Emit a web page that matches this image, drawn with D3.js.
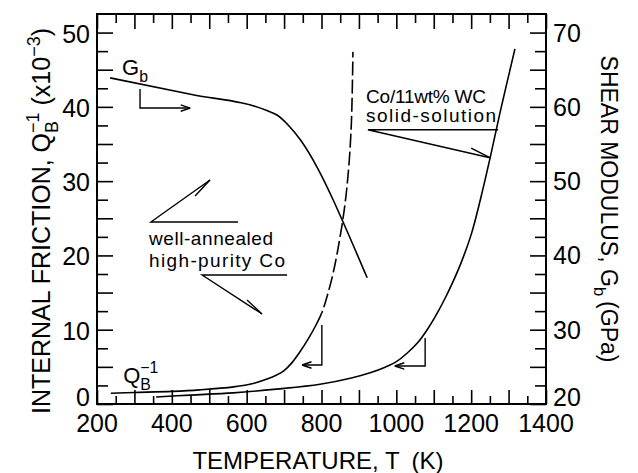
<!DOCTYPE html>
<html><head><meta charset="utf-8">
<script src="https://cdn.jsdelivr.net/npm/d3@7"></script>
<style>
body{margin:0;background:#fff}
svg{display:block}
text{font-family:"Liberation Sans",Arial,Helvetica,sans-serif;fill:#000}
</style>
</head><body>
<svg id="chart" width="638" height="473"></svg>
<script>
// ---------------- data ----------------
const xTickLabels = [200, 400, 600, 800, 1000, 1200, 1400];
const yLeftTickLabels = [0, 10, 20, 30, 40, 50];
const yRightTickLabels = [20, 30, 40, 50, 60, 70];

// Internal friction, well-annealed high-purity Co (solid up to pureDashFrom, dashed above)
const pureT = [237, 300, 400, 475, 565, 620, 660, 680, 700, 720, 742, 765, 785, 801, 815, 831, 849, 863, 873, 880, 884];
const pureQ = [1.45, 1.55, 1.7, 1.9, 2.3, 2.8, 3.45, 3.9, 4.5, 5.5, 7.0, 8.8, 10.6, 12.3, 14.5, 17.6, 22.3, 27.0, 32.0, 38.0, 47.4];
const pureDashFrom = 801;

// Internal friction, Co/11wt% WC solid solution
const wcT = [358, 450, 564, 680, 796, 880, 930, 970, 1000, 1030, 1058, 1085, 1110, 1130, 1150, 1173, 1200, 1225, 1250, 1277, 1317];
const wcQ = [0.95, 1.2, 1.5, 2.0, 2.65, 3.5, 4.2, 4.95, 5.7, 6.9, 8.3, 10.2, 12.3, 14.2, 16.3, 19.0, 22.8, 27.6, 33.0, 39.2, 47.8];

// Shear modulus G_b (GPa), right axis
const gbT = [235, 450, 654, 681, 712, 743, 788, 831, 855, 922];
const gbG = [63.9, 61.7, 59.5, 58.9, 57.5, 55.6, 51.9, 47.5, 44.8, 37.0];

// annotation arrows (T, Q on left axis)
const gbArrow = [[315, 42.4], [315, 39.84], [449, 39.84]];
const pureArrow = [[801, 10.63], [801, 5.25], [748, 5.25]];
const wcArrow = [[1077, 8.88], [1077, 5.12], [996, 5.12]];
// leader lines for text labels (horizontal, then diagonal to tip), barb at tip
const pureLeaderUp = [[577, 24.5], [344, 24.5], [502, 30.15]];
const pureBarbUp = [[502, 30.15], [462, 28.0]];
const pureLeaderDown = [[708, 17.37], [481, 17.37], [641, 12.12]];
const pureBarbDown = [[641, 12.12], [601, 14.0]];
const wcLeader = [[1272, 36.92], [924, 36.92], [1250, 33.15]];
const wcBarb = [[1250, 33.15], [1200, 34.46]];

// ---------------- layout ----------------
const svg = d3.select("#chart");
const L = 97, R = 546, T = 14, B = 404;
const x = d3.scaleLinear().domain([200, 1400]).range([L, R]);
const yL = d3.scaleLinear().domain([0, 52.5]).range([B, T]);
const yR = d3.scaleLinear().domain([20, 72.5]).range([B, T]);

const tickStroke = g => g.selectAll("line").attr("stroke", "#000").attr("stroke-width", 1.6);
function axisG(axis, tx, ty) {
  const g = svg.append("g").attr("transform", `translate(${tx},${ty})`).call(axis);
  g.select(".domain").remove();
  g.selectAll("text").remove();
  tickStroke(g);
  return g;
}
const xMajor = d3.range(200, 1401, 100), xMinor = d3.range(250, 1400, 100);
axisG(d3.axisBottom(x).tickValues(xMajor).tickSize(-14).tickFormat(""), 0, B);
axisG(d3.axisBottom(x).tickValues(xMinor).tickSize(-8).tickFormat(""), 0, B);
axisG(d3.axisTop(x).tickValues(xMajor).tickSize(-15).tickFormat(""), 0, T);
axisG(d3.axisTop(x).tickValues(xMinor).tickSize(-9).tickFormat(""), 0, T);
axisG(d3.axisLeft(yL).tickValues(d3.range(0, 51, 5)).tickSize(-16).tickFormat(""), L, 0);
axisG(d3.axisLeft(yL).tickValues(d3.range(2.5, 52, 5)).tickSize(-11).tickFormat(""), L, 0);
axisG(d3.axisRight(yR).tickValues(d3.range(20, 71, 5)).tickSize(-16).tickFormat(""), R, 0);
axisG(d3.axisRight(yR).tickValues(d3.range(22.5, 72, 5)).tickSize(-11).tickFormat(""), R, 0);

svg.append("rect").attr("x", L).attr("y", T).attr("width", R - L).attr("height", B - T)
  .attr("fill", "none").attr("stroke", "#000").attr("stroke-width", 2);

// tick labels
svg.append("g").selectAll("text").data(xTickLabels).join("text")
  .attr("x", d => x(d)).attr("y", 432).attr("text-anchor", "middle")
  .attr("font-size", 25).text(d => d);
svg.append("g").selectAll("text").data(yLeftTickLabels).join("text")
  .attr("x", 90).attr("y", d => yL(d) + (d === 0 ? 2 : 10)).attr("text-anchor", "end")
  .attr("font-size", 25).text(d => d);
svg.append("g").selectAll("text").data(yRightTickLabels).join("text")
  .attr("x", 553).attr("y", d => yR(d) + (d === 20 ? 2 : 9)).attr("text-anchor", "start")
  .attr("font-size", 25).text(d => d);

// rich text helper (sub / sup / stacked sup)
function rich(g, parts, size) {
  const t = g.append("text").attr("font-size", size);
  let cur = 0, lastW = 0;
  parts.forEach(p => {
    let target = 0, fs = size, dx = 0;
    if (p.k === "sub") { target = 0.3 * size; fs = 0.72 * size; }
    else if (p.k === "sup") { target = -0.42 * size; fs = 0.72 * size; }
    else if (p.k === "stack") { target = -0.45 * size; fs = 0.72 * size; dx = -lastW; }
    const ts = t.append("tspan").attr("font-size", fs).attr("dy", target - cur).text(p.s);
    if (p.dx) dx += p.dx;
    if (dx) ts.attr("dx", dx);
    cur = target;
    lastW = ts.node().getComputedTextLength();
  });
  return t;
}

// axis titles
rich(svg.append("g").attr("transform", "translate(318,469)"),
  [{s: "TEMPERATURE, T"}, {s: "(K)", dx: 12}], 24).attr("text-anchor", "middle");
rich(svg.append("g").attr("transform", "translate(50,221) rotate(-90)"),
  [{s: "INTERNAL FRICTION, Q"}, {s: "B", k: "sub"}, {s: "−1", k: "stack"}, {s: " (x10"}, {s: "−3", k: "sup"}, {s: ")"}], 25)
  .attr("text-anchor", "middle");
rich(svg.append("g").attr("transform", "translate(601,209) rotate(90)"),
  [{s: "SHEAR MODULUS, G"}, {s: "b", k: "sub"}, {s: "(GPa)", dx: 5}], 23)
  .attr("text-anchor", "middle");

// clip regions for solid / dashed parts of the pure-Co curve
const defs = svg.append("defs");
defs.append("clipPath").attr("id", "clipSolid").append("rect")
  .attr("x", 0).attr("y", 0).attr("width", x(pureDashFrom)).attr("height", 473);
defs.append("clipPath").attr("id", "clipDash").append("rect")
  .attr("x", x(pureDashFrom)).attr("y", 0).attr("width", 638).attr("height", 473);

// curves
const zip = (a, b) => a.map((v, i) => [v, b[i]]);
const lineQ = d3.line().x(d => x(d[0])).y(d => yL(d[1])).curve(d3.curveCatmullRom.alpha(0.5));
const lineG = d3.line().x(d => x(d[0])).y(d => yR(d[1])).curve(d3.curveMonotoneX);
const curves = svg.append("g").attr("fill", "none").attr("stroke", "#000").attr("stroke-width", 1.6);
const pureD = lineQ(zip(pureT, pureQ));
curves.append("path").attr("d", pureD).attr("clip-path", "url(#clipSolid)");
curves.append("path").attr("d", pureD).attr("clip-path", "url(#clipDash)").attr("stroke-dasharray", "14,4");
curves.append("path").attr("d", lineQ(zip(wcT, wcQ)));
curves.append("path").attr("d", lineG(zip(gbT, gbG)));

// annotations
const ann = svg.append("g").attr("fill", "none").attr("stroke", "#000").attr("stroke-width", 1.4);
const px = p => [x(p[0]), yL(p[1])];
const straight = d3.line();
function arrow(pts) {
  const P = pts.map(px);
  ann.append("path").attr("d", straight(P));
  const [a, b] = [P[P.length - 2], P[P.length - 1]];
  const ang = Math.atan2(b[1] - a[1], b[0] - a[0]);
  [0.33, -0.33].forEach(s => {
    ann.append("path").attr("d", straight([b, [b[0] - 10 * Math.cos(ang + s), b[1] - 10 * Math.sin(ang + s)]]));
  });
}
arrow(gbArrow); arrow(pureArrow); arrow(wcArrow);
[pureLeaderUp, pureBarbUp, pureLeaderDown, pureBarbDown, wcLeader, wcBarb]
  .forEach(pts => ann.append("path").attr("d", straight(pts.map(px))));

// text labels
const tl = svg.append("g");
rich(tl.append("g").attr("transform", `translate(${x(267)},${yL(44.3)})`), [{s: "G"}, {s: "b", k: "sub"}], 22);
rich(tl.append("g").attr("transform", `translate(${x(270)},${yL(2.8)})`), [{s: "Q"}, {s: "B", k: "sub"}, {s: "−1", k: "stack"}], 22);
const small = [
  ["well-annealed", 339, 21.4, 124],
  ["high-purity Co", 339, 18.44, 136],
  ["Co/11wt% WC", 919, 40.52, 120],
  ["solid-solution", 919, 37.96, 130]
];
tl.selectAll("text.s").data(small).join("text").attr("class", "s")
  .attr("x", d => x(d[1])).attr("y", d => yL(d[2])).attr("font-size", 19)
  .attr("textLength", d => d[3]).attr("lengthAdjust", "spacing").text(d => d[0]);
</script>
</body></html>
